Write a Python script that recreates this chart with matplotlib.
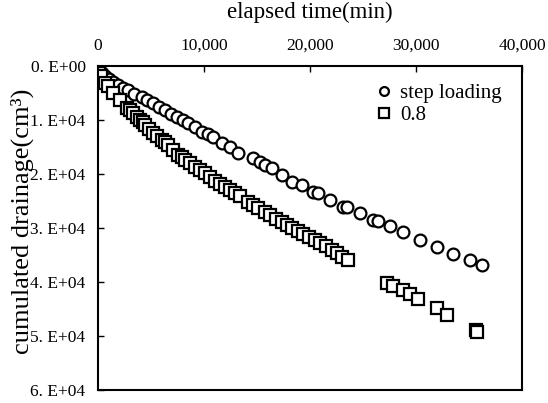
import matplotlib.pyplot as plt
from matplotlib.ticker import FuncFormatter

plt.rcParams['font.family'] = ['Liberation Serif', 'DejaVu Serif']

# step loading: elapsed time (min) vs cumulated drainage (cm3)
step_time = [0, 0, 190, 380, 660, 1040, 1410, 1890, 2360, 2830, 3390, 4150,
             4620, 5190, 5750, 6320, 6880, 7450, 8020, 8490, 9150, 9810, 10370,
             10850, 11690, 12450, 13200, 14620, 15280, 15750, 16410, 17350, 18290,
             19240, 20280, 20750, 21880, 23100, 23480, 24710, 25930, 26400, 27540,
             28760, 30360, 31970, 33480, 35080, 36210]
step_drain = [0, 556, 926, 1300, 1850, 2410, 2960, 3520, 4070, 4440, 5190, 5740,
              6300, 6850, 7590, 8150, 8890, 9440, 10000, 10560, 11300, 12220, 12590,
              13150, 14260, 15000, 16110, 17040, 17780, 18330, 18890, 20190, 21480,
              22040, 23340, 23520, 24820, 26110, 26110, 27220, 28520, 28710, 29630,
              30740, 32220, 33520, 34820, 35930, 36850]

# ratio 0.8
r08_time = [0, 0, 90, 280, 660, 940, 1410, 2070, 2730, 3020, 3300, 3680, 3960,
            4240, 4430, 4810, 5190, 5560, 6040, 6320, 6600, 7070, 7540, 7920, 8200,
            8680, 9150, 9620, 10090, 10560, 11030, 11500, 11980, 12450, 12920,
            13390, 14150, 14620, 15090, 15750, 16220, 16790, 17350, 17820, 18290,
            18860, 19330, 19900, 20460, 20930, 21500, 22070, 22540, 23010, 23580,
            27250, 27820, 28760, 29420, 30180, 31970, 32910, 35650, 35740]
r08_drain = [0, 740, 1300, 1850, 3150, 3700, 5000, 6300, 7780, 8150, 8700, 9440,
             10000, 10370, 10930, 11670, 12410, 12960, 13700, 14080, 14630, 15560,
             16480, 16850, 17410, 17960, 18700, 19260, 19820, 20560, 21300, 21860,
             22410, 22970, 23520, 24080, 25190, 25740, 26300, 27040, 27590, 28340,
             28890, 29450, 30000, 30560, 31110, 31670, 32220, 32780, 33340, 34080,
             34630, 35370, 35930, 40190, 40740, 41480, 42230, 43150, 44820, 46110,
             48890, 49260]

x_ticks = [0, 10000, 20000, 30000, 40000]
y_ticks = [0, 10000, 20000, 30000, 40000, 50000, 60000]

fig = plt.figure(figsize=(5.48, 4.03), dpi=100)
ax = fig.add_axes([0.179, 0.032, 0.774, 0.804])

ax.plot(step_time, step_drain, linestyle='none', marker='o', markersize=8.5,
        markerfacecolor='white', markeredgecolor='black', markeredgewidth=1.6,
        label='step loading')
ax.plot(r08_time, r08_drain, linestyle='none', marker='s', markersize=9,
        markerfacecolor='white', markeredgecolor='black', markeredgewidth=1.6,
        label='0.8')

ax.set_xlim(0, 40000)
ax.set_ylim(60000, 0)
ax.set_xticks(x_ticks)
ax.set_yticks(y_ticks)
ax.xaxis.tick_top()
ax.xaxis.set_label_position('top')
ax.xaxis.set_major_formatter(FuncFormatter(lambda v, p: f"{int(v):,}"))
ax.yaxis.set_major_formatter(
    FuncFormatter(lambda v, p: f"{int(v // 10000)}. E+0{0 if v == 0 else 4}"))
ax.tick_params(direction='in', length=4, width=1, labelsize=12.5)
ax.tick_params(axis='x', pad=9)
ax.tick_params(axis='y', pad=9)
for s in ax.spines.values():
    s.set_linewidth(1.5)

ax.set_xlabel('elapsed time(min)', fontsize=16.5, labelpad=14)
ax.set_ylabel('cumulated drainage(cm³)', fontsize=19)
ax.yaxis.set_label_coords(-0.15, 0.52)

ax.legend(loc='upper left', bbox_to_anchor=(0.649, 0.945), frameon=False,
          fontsize=15, handlelength=1.0, handletextpad=0.3, markerscale=0.75,
          borderpad=0, borderaxespad=0, labelspacing=0.1)

fig.savefig('out.png', dpi=100)
